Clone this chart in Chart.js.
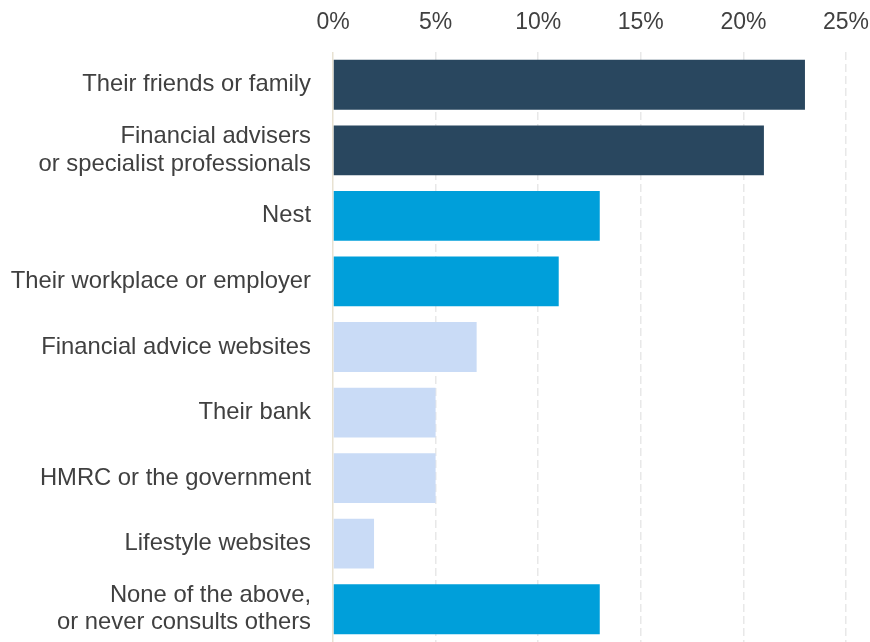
<!DOCTYPE html>
<html>
<head>
<meta charset="utf-8">
<script src="https://cdn.jsdelivr.net/npm/chart.js@4/dist/chart.umd.min.js"></script>
<style>
html,body{margin:0;padding:0;background:#fff;}
#wrap{width:870px;height:642px;}
</style>
</head>
<body>
<div id="wrap"><canvas id="chart"></canvas></div>
<script>
// Who people consult about pensions

const categories = [
  "Their friends or family",
  ["Financial advisers", "or specialist professionals"],
  "Nest",
  "Their workplace or employer",
  "Financial advice websites",
  "Their bank",
  "HMRC or the government",
  "Lifestyle websites",
  ["None of the above,", "or never consults others"]
];

const shares = [23, 21, 13, 11, 7, 5, 5, 2, 13];

const groups = ["people", "people", "work", "work", "online", "online", "online", "online", "work"];

const groupColours = {
  people: "#29475f",
  work: "#009fda",
  online: "#c9dbf6"
};

const xTicks = [0, 5, 10, 15, 20, 25];

const fontFamily = "'Liberation Sans', Arial, sans-serif";

new Chart(document.getElementById("chart"), {
  type: "bar",
  data: {
    labels: categories,
    datasets: [{
      data: shares,
      backgroundColor: groups.map(g => groupColours[g]),
      categoryPercentage: 1,
      barPercentage: 0.76
    }]
  },
  options: {
    indexAxis: "y",
    responsive: true,
    maintainAspectRatio: false,
    animation: false,
    layout: { padding: { top: 0, right: 24, bottom: 0, left: 0 } },
    plugins: {
      legend: { display: false },
      tooltip: { enabled: false }
    },
    scales: {
      x: {
        position: "top",
        min: xTicks[0],
        max: xTicks[xTicks.length - 1],
        afterBuildTicks: s => { s.ticks = xTicks.map(v => ({ value: v })); },
        afterFit: s => { s.height = 52; s.paddingLeft = 0; s.paddingRight = 0; },
        ticks: {
          callback: v => v + "%",
          color: "#404040",
          font: { family: fontFamily, size: 23 },
          padding: 16
        },
        grid: {
          drawTicks: false,
          lineWidth: 1.5,
          color: ctx => ctx.tick && ctx.tick.value === 0 ? "#e8e2d2" : "#e8e8e8"
        },
        border: {
          display: false,
          dash: ctx => ctx.tick && ctx.tick.value === 0 ? [] : [8, 4]
        }
      },
      y: {
        afterFit: s => { s.width = 333; s.paddingTop = 0; s.paddingBottom = 0; },
        ticks: {
          color: "#404040",
          font: { family: fontFamily, size: 23.8, lineHeight: 1.15 },
          padding: 22
        },
        grid: { display: false, drawTicks: false },
        border: { display: false }
      }
    }
  }
});
</script>
</body>
</html>
